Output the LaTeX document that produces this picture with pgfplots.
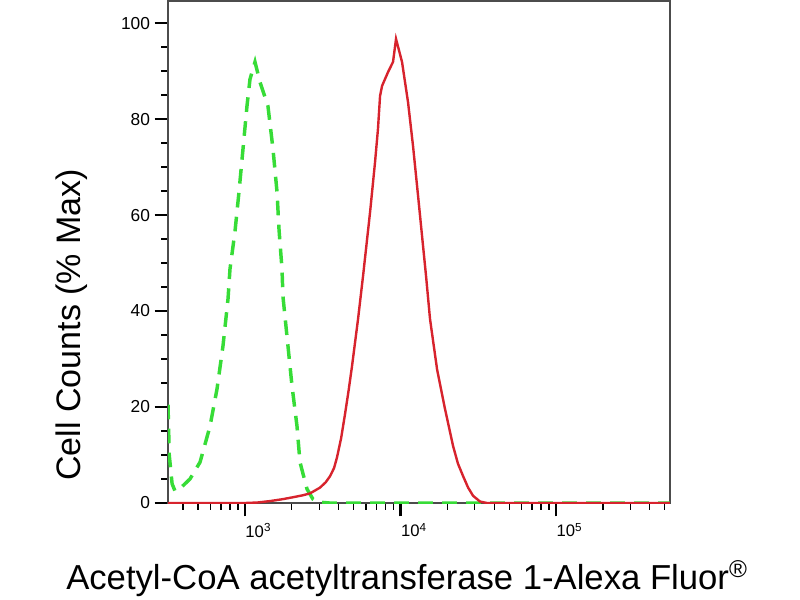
\documentclass[border=0pt]{standalone}
\usepackage{fontspec}
\setmainfont{Liberation Sans}
\usepackage{pgfplots}
\pgfplotsset{compat=1.18}
\begin{document}
\begin{tikzpicture}
\path[use as bounding box] (-126pt,-72.75pt) rectangle (474pt,377.25pt);
\begin{axis}[
  scale only axis, width=376.5pt, height=376.5pt,
  xmode=log, xmin=320, xmax=540000, ymin=0, ymax=104.6,
  xtick={1000,10000,100000},
  xticklabels={10\textsuperscript{3},10\textsuperscript{4},10\textsuperscript{5}},
  minor xtick={400,500,600,700,800,900,2000,3000,4000,5000,6000,7000,8000,9000,20000,30000,40000,50000,60000,70000,80000,90000,200000,300000,400000,500000},
  ytick={0,20,40,60,80,100},
  minor ytick={5,10,15,25,30,35,45,50,55,65,70,75,85,90,95},
  tick pos=left, tick align=outside,
  major tick length=10pt, minor tick length=5pt,
  major tick style={black, line width=1.6pt},
  minor tick style={black, line width=1pt},
  axis line style={black!70, line width=0.9pt},
  /pgf/number format/assume math mode=true,
  yticklabel style={font=\fontsize{13}{13}\selectfont},
  xticklabel style={font=\fontsize{12.5}{13}\selectfont, anchor=north, xshift=10pt, yshift=-1.5pt},
  xlabel={Acetyl-CoA acetyltransferase 1-Alexa Fluor\textsuperscript{\textregistered}},
  ylabel={Cell Counts (\% Max)},
  xlabel style={font=\fontsize{26}{30}\selectfont, at={(axis description cs:0.476,-0.1733)}, anchor=base},
  ylabel style={font=\fontsize{25.5}{30}\selectfont, at={(axis description cs:-0.191,0.355)}, anchor=center},
]
\addplot[color={rgb,255:red,55;green,220;blue,55}, line width=2.6pt, dash pattern=on 11pt off 7pt] coordinates {
(320,20.5)(326,10)(340,4)(355,2.5)(370,2.8)(382,3)(443,5)(514,8.5)(596,16)(661,23.75)(722,32.7)(778,42.5)(801,48.75)(862,56.5)(915,64.8)(971,73.75)(1030,82.7)(1077,88.3)(1160,91.9)(1249,87.7)(1405,82.7)(1514,73.75)(1607,64.8)(1655,57)(1730,48.75)(1755,43)(1890,32.7)(2006,24.4)(2160,16)(2258,8.5)(2505,2.9)(2737,0.8)(2946,0.2)(3500,0)(540000,0)
};
\addplot[color={rgb,255:red,215;green,35;blue,45}, line width=1.8pt] coordinates {
(320,0)(1000,0)(1200,0.1)(1448,0.4)(1750,0.8)(2036,1.2)(2350,1.6)(2618,2.0)(3035,3.2)(3300,4.3)(3525,5.6)(3740,7.3)(3905,9.5)(4150,13.5)(4396,18.5)(4640,23.5)(4876,28.5)(5331,38.3)(5742,47.3)(6371,60.6)(6857,71)(7161,77.9)(7386,84.8)(7607,86.9)(8315,89.8)(8950,91.9)(9355,96.7)(10224,91.9)(11177,83.5)(12032,74.4)(12965,64)(13962,53.5)(14590,47.3)(15480,38.3)(17170,27.9)(19320,19.6)(21760,11.9)(23400,8.2)(25250,5.6)(27200,3.2)(29270,1.5)(32440,0.3)(36000,0)(540000,0)
};
\end{axis}
\end{tikzpicture}
\end{document}
